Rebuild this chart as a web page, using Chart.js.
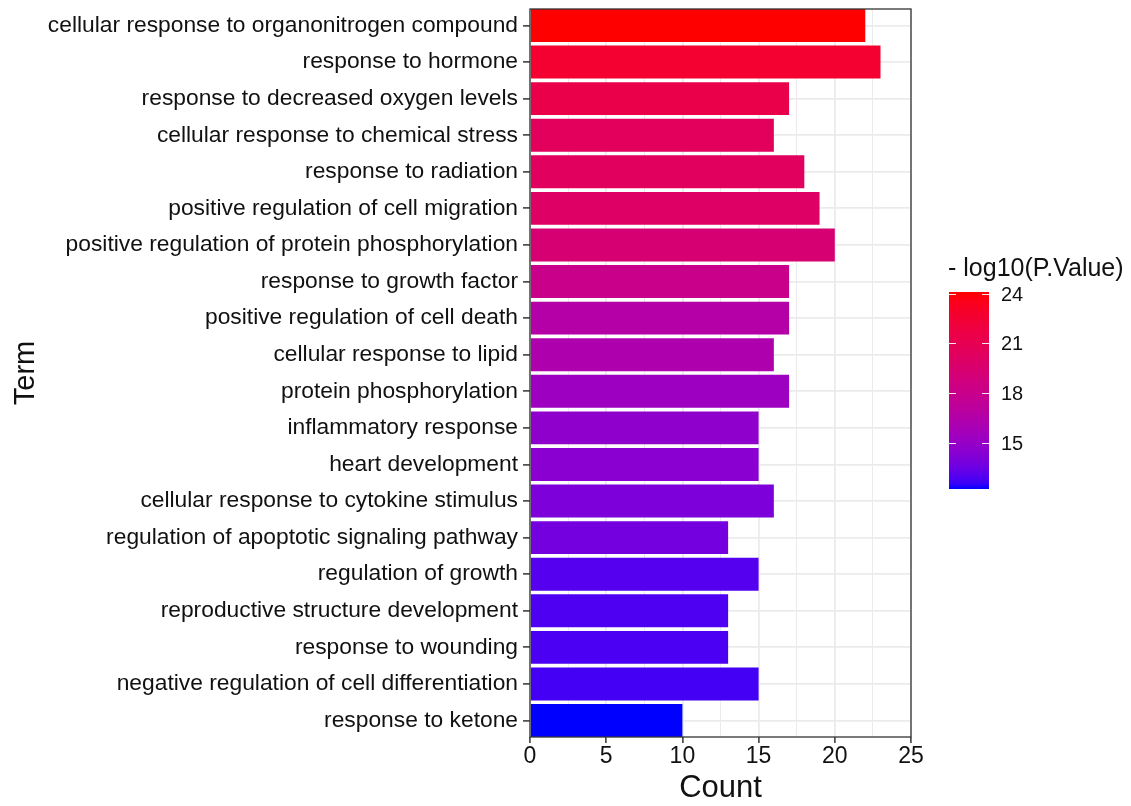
<!DOCTYPE html>
<html>
<head>
<meta charset="utf-8">
<script src="https://cdn.jsdelivr.net/npm/chart.js@4.4.0/dist/chart.umd.min.js"></script>
<style>
  html, body { margin: 0; padding: 0; background: #ffffff; }
  #wrap { width: 1131px; height: 806px; position: relative; }
</style>
</head>
<body>
<div id="wrap"><canvas id="c" width="1131" height="806"></canvas></div>
<script>
// GO terms, top to bottom
const terms = [
  'cellular response to organonitrogen compound',
  'response to hormone',
  'response to decreased oxygen levels',
  'cellular response to chemical stress',
  'response to radiation',
  'positive regulation of cell migration',
  'positive regulation of protein phosphorylation',
  'response to growth factor',
  'positive regulation of cell death',
  'cellular response to lipid',
  'protein phosphorylation',
  'inflammatory response',
  'heart development',
  'cellular response to cytokine stimulus',
  'regulation of apoptotic signaling pathway',
  'regulation of growth',
  'reproductive structure development',
  'response to wounding',
  'negative regulation of cell differentiation',
  'response to ketone'
];
// gene counts per term
const counts = [22, 23, 17, 16, 18, 19, 20, 17, 17, 16, 17, 15, 15, 16, 13, 15, 13, 13, 15, 10];
// -log10(P.Value) per term
const negLogP = [24.1, 22.6, 21.4, 20.5, 20.4, 20.05, 19.35, 18.05, 16.6, 16.25, 15.3, 14.7, 14.45, 14.0, 13.75, 12.97, 12.85, 12.8, 12.68, 12.2];
const xTickValues = [0, 5, 10, 15, 20, 25];
const legendTicks = [15, 18, 21, 24];
const legendTitle = '- log10(P.Value)';

// ---- colour scale: blue -> red interpolated in CIE Lab ----
function toLin(c) { c /= 255; return c <= 0.04045 ? c / 12.92 : Math.pow((c + 0.055) / 1.055, 2.4); }
function fromLin(c) { c = Math.max(0, Math.min(1, c)); return c <= 0.0031308 ? 12.92 * c : 1.055 * Math.pow(c, 1 / 2.4) - 0.055; }
const WX = 0.95047, WY = 1.0, WZ = 1.08883;
function rgbToLab(rgb) {
  const r = toLin(rgb[0]), g = toLin(rgb[1]), b = toLin(rgb[2]);
  const X = (0.4124 * r + 0.3576 * g + 0.1805 * b) / WX;
  const Y = (0.2126 * r + 0.7152 * g + 0.0722 * b) / WY;
  const Z = (0.0193 * r + 0.1192 * g + 0.9505 * b) / WZ;
  const f = t => t > 0.008856 ? Math.cbrt(t) : 7.787 * t + 16 / 116;
  const fx = f(X), fy = f(Y), fz = f(Z);
  return [116 * fy - 16, 500 * (fx - fy), 200 * (fy - fz)];
}
function labToRgb(lab) {
  const fy = (lab[0] + 16) / 116, fx = fy + lab[1] / 500, fz = fy - lab[2] / 200;
  const inv = t => t > 0.206893 ? t * t * t : (t - 16 / 116) / 7.787;
  const X = inv(fx) * WX, Y = inv(fy) * WY, Z = inv(fz) * WZ;
  const r = 3.2406 * X - 1.5372 * Y - 0.4986 * Z;
  const g = -0.9689 * X + 1.8758 * Y + 0.0415 * Z;
  const b = 0.0557 * X - 0.2040 * Y + 1.0570 * Z;
  return [r, g, b].map(c => Math.round(fromLin(c) * 255));
}
const LOW = rgbToLab([0, 0, 255]);
const HIGH = rgbToLab([255, 0, 0]);
const vMin = Math.min(...negLogP);
const vMax = Math.max(...negLogP);
function colorFor(v) {
  const t = Math.max(0, Math.min(1, (v - vMin) / (vMax - vMin)));
  const lab = [0, 1, 2].map(i => LOW[i] + (HIGH[i] - LOW[i]) * t);
  const c = labToRgb(lab);
  return `rgb(${c[0]},${c[1]},${c[2]})`;
}

const FONT = '"Liberation Sans", Arial, sans-serif';
const TEXT = '#111111';
const GRID = '#EBEBEB';
const DARK = '#333333';

// panel frame (theme_bw style)
const panelBorder = {
  id: 'panelBorder',
  afterDraw(chart) {
    const { ctx, chartArea: a } = chart;
    ctx.save();
    ctx.strokeStyle = DARK;
    ctx.lineWidth = 1.3;
    ctx.strokeRect(a.left, a.top, a.right - a.left, a.bottom - a.top);
    ctx.restore();
  }
};

// continuous colour bar legend
const colorBar = {
  id: 'colorBar',
  afterDraw(chart) {
    const { ctx } = chart;
    const x0 = 949, x1 = 989, y0 = 292, y1 = 489;
    ctx.save();
    ctx.font = `25px ${FONT}`;
    ctx.fillStyle = TEXT;
    ctx.textAlign = 'left';
    ctx.textBaseline = 'middle';
    ctx.fillText(legendTitle, 948, 269);
    const grad = ctx.createLinearGradient(0, y1, 0, y0);
    const n = 40;
    for (let i = 0; i <= n; i++) {
      grad.addColorStop(i / n, colorFor(vMin + (vMax - vMin) * i / n));
    }
    ctx.fillStyle = grad;
    ctx.fillRect(x0, y0, x1 - x0, y1 - y0);
    const yOf = v => y1 - (v - vMin) / (vMax - vMin) * (y1 - y0);
    ctx.strokeStyle = 'rgba(255,255,255,0.9)';
    ctx.lineWidth = 1;
    ctx.font = `20px ${FONT}`;
    ctx.fillStyle = TEXT;
    legendTicks.forEach(v => {
      const y = Math.round(yOf(v)) + 0.5;
      ctx.beginPath();
      ctx.moveTo(x0, y); ctx.lineTo(x0 + 7, y);
      ctx.moveTo(x1 - 7, y); ctx.lineTo(x1, y);
      ctx.stroke();
      ctx.fillText(String(v), 1001, y + 1);
    });
    ctx.restore();
  }
};

// bars positioned by row index on a reversed linear axis
const rows = terms.map((_, i) => i);

new Chart(document.getElementById('c'), {
  type: 'bar',
  data: {
    labels: rows,
    datasets: [{
      data: counts.map((c, i) => ({ x: c, y: rows[i] })),
      backgroundColor: negLogP.map(colorFor),
      borderWidth: 0,
      barPercentage: 0.9,
      categoryPercentage: 1.0
    }]
  },
  options: {
    indexAxis: 'y',
    responsive: false,
    devicePixelRatio: 1,
    animation: false,
    layout: { padding: { left: 0, right: 220, top: 9, bottom: 0 } },
    plugins: { legend: { display: false }, tooltip: { enabled: false } },
    scales: {
      x: {
        type: 'linear',
        min: 0,
        max: 25,
        offset: false,
        afterFit(scale) { scale.height = 69; scale.paddingLeft = 0; scale.paddingRight = 0; },
        afterBuildTicks(scale) {
          const t = [];
          for (let v = 0; v <= 25; v += 2.5) t.push({ value: v });
          scale.ticks = t;
        },
        ticks: {
          autoSkip: false,
          maxRotation: 0,
          padding: 0,
          color: TEXT,
          font: { family: FONT, size: 23 },
          callback: v => xTickValues.includes(v) ? String(v) : ''
        },
        grid: {
          offset: false,
          color: GRID,
          lineWidth: c => (c.tick && xTickValues.includes(c.tick.value)) ? 1.8 : 1.0,
          tickColor: c => (c.tick && xTickValues.includes(c.tick.value)) ? DARK : 'rgba(0,0,0,0)',
          tickLength: 6,
          tickWidth: 1.5
        },
        border: { display: false },
        title: {
          display: true,
          text: 'Count',
          color: TEXT,
          font: { family: FONT, size: 31, lineHeight: 1.12 },
          padding: { top: 0, bottom: 0 }
        }
      },
      y: {
        type: 'linear',
        reverse: true,
        offset: false,
        min: -0.45,
        max: rows.length - 0.55,
        afterFit(scale) { scale.width = 530; scale.paddingTop = 0; scale.paddingBottom = 0; },
        afterBuildTicks(scale) { scale.ticks = rows.map(v => ({ value: v })); },
        ticks: {
          autoSkip: false,
          padding: 5,
          color: TEXT,
          font: { family: FONT, size: 22.8 },
          callback: v => terms[v]
        },
        grid: {
          offset: false,
          color: GRID,
          lineWidth: 1.8,
          tickColor: DARK,
          tickLength: 7,
          tickWidth: 1.5
        },
        border: { display: false },
        title: {
          display: true,
          text: 'Term',
          color: TEXT,
          font: { family: FONT, size: 29 },
          padding: { top: 9, bottom: 0 }
        }
      }
    }
  },
  plugins: [panelBorder, colorBar]
});
</script>
</body>
</html>
